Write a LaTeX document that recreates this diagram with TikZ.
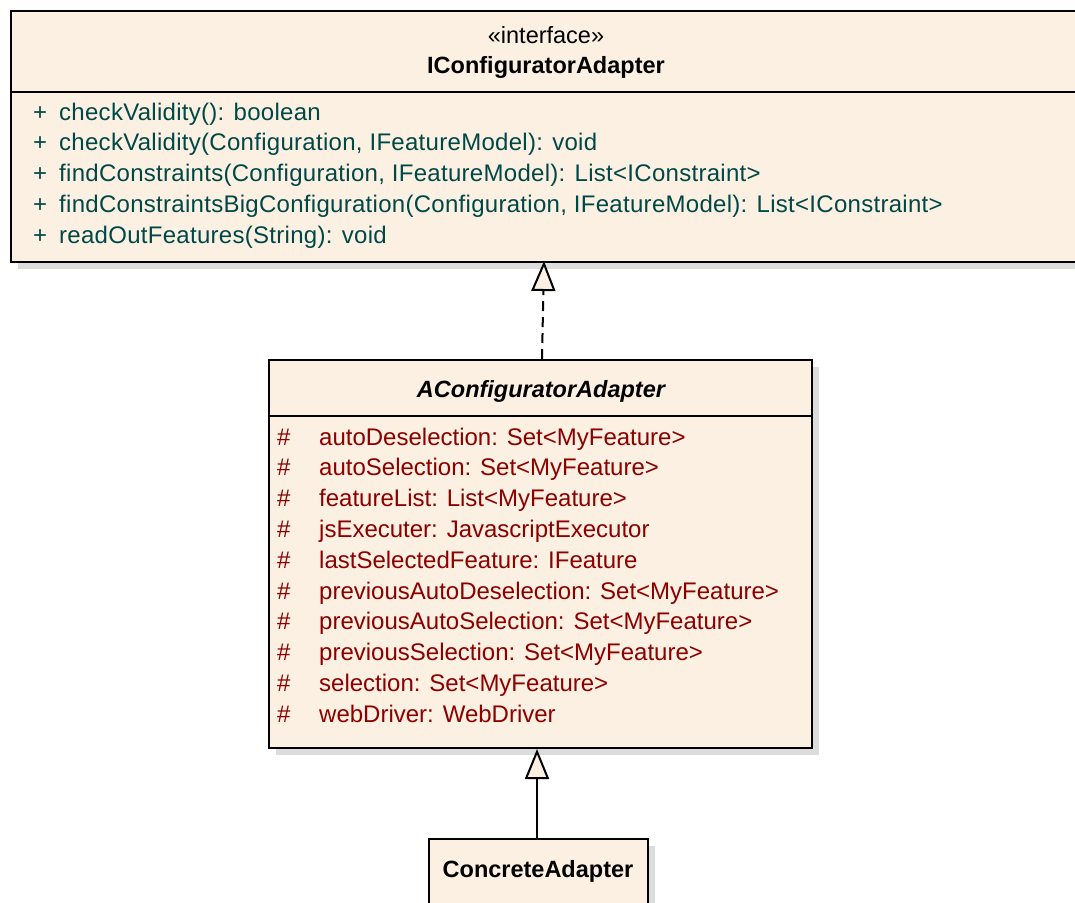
\documentclass[tikz,border=0pt]{standalone}
\usepackage{fontspec}
\setmainfont{Liberation Sans}
\usetikzlibrary{arrows.meta,shadows}
\definecolor{cream}{RGB}{251,240,225}
\definecolor{opcolor}{RGB}{0,72,72}
\definecolor{attrcolor}{RGB}{140,0,0}
\definecolor{shadowgray}{RGB}{220,220,220}
\tikzset{
  umlbox/.style={draw=black, line width=2pt, fill=cream, inner sep=0pt, anchor=north west,
    drop shadow={shadow xshift=7pt, shadow yshift=-7pt, fill=shadowgray, opacity=1}},
  sepline/.style={line width=1.5pt},
  txt/.style={inner sep=0pt, font=\fontsize{24}{28}\selectfont},
  optxt/.style={txt, anchor=base west, text=opcolor, font=\fontsize{24}{28}\selectfont\addfontfeature{LetterSpace=1.2}},
  attrtxt/.style={txt, anchor=base west, text=attrcolor},
  titletxt/.style={txt, anchor=base, text=black, font=\fontsize{23.5}{28}\selectfont},
  realize/.style={line width=2pt, dash pattern=on 10pt off 6pt,
    -{Triangle[length=30pt,width=24pt,fill=cream,line width=2pt]}},
  inherit/.style={line width=2pt,
    -{Triangle[length=30pt,width=24pt,fill=cream,line width=2pt]}}
}
\begin{document}
\begin{tikzpicture}[x=1pt,y=-1pt]
\useasboundingbox (0,0) rectangle (1075,902);
\clip (0,0) rectangle (1075,902);
\fill[white] (0,0) rectangle (1075,902);

% interface box
\node[umlbox, minimum width=1072pt, minimum height=251pt] (iface) at (10,10) {};
\draw[sepline] (iface.west |- 0,92) -- (iface.east |- 0,92);
\node[titletxt] (ifacest) at (546,43) {«interface»};
\node[titletxt, font=\fontsize{23.5}{28}\selectfont\bfseries] (ifacename) at (546,73) {IConfiguratorAdapter};
\foreach \i/\t in {0/{checkValidity(): boolean},
                   1/{checkValidity(Configuration, IFeatureModel): void},
                   2/{findConstraints(Configuration, IFeatureModel): List<IConstraint>},
                   3/{findConstraintsBigConfiguration(Configuration, IFeatureModel): List<IConstraint>},
                   4/{readOutFeatures(String): void}} {
  \node[optxt] (opv\i) at (33,120+30.75*\i) {+};
  \node[optxt] (op\i) at (59,120+30.75*\i) {\t};
}

% abstract class box
\node[umlbox, minimum width=543pt, minimum height=388pt] (abs) at (268,359) {};
\draw[sepline] (abs.west |- 0,416) -- (abs.east |- 0,416);
\node[titletxt, font=\fontsize{23.5}{28}\selectfont\bfseries\itshape] (absname) at (541,397) {AConfiguratorAdapter};
\foreach \i/\t in {0/{autoDeselection: Set<MyFeature>},
                   1/{autoSelection: Set<MyFeature>},
                   2/{featureList: List<MyFeature>},
                   3/{jsExecuter: JavascriptExecutor},
                   4/{lastSelectedFeature: IFeature},
                   5/{previousAutoDeselection: Set<MyFeature>},
                   6/{previousAutoSelection: Set<MyFeature>},
                   7/{previousSelection: Set<MyFeature>},
                   8/{selection: Set<MyFeature>},
                   9/{webDriver: WebDriver}} {
  \node[attrtxt] (atv\i) at (277,445+30.8*\i) {\#};
  \node[attrtxt] (at\i) at (319,445+30.8*\i) {\t};
}

% concrete class box
\node[umlbox, minimum width=219pt, minimum height=90pt] (conc) at (428,838) {};
\node[titletxt, font=\fontsize{23.5}{28}\selectfont\bfseries] (concname) at (538,877) {ConcreteAdapter};

% relations
\coordinate (realfrom) at (542,359);
\coordinate (realto) at (544,261);
\draw[realize] (realfrom) -- (realto);
\draw[inherit] (conc.north -| 537,0) -- (abs.south -| 537,0);
\end{tikzpicture}
\end{document}
